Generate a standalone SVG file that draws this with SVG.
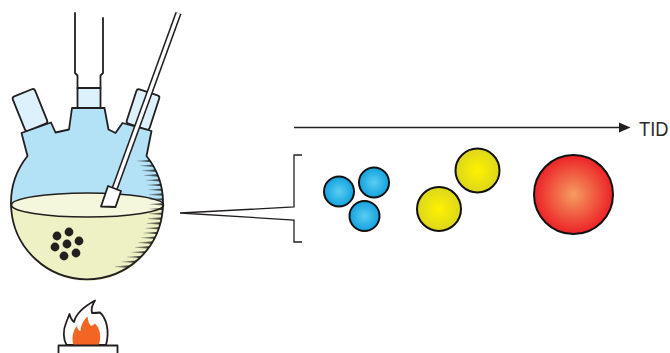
<svg xmlns="http://www.w3.org/2000/svg" xmlns:xlink="http://www.w3.org/1999/xlink" width="670" height="353" viewBox="0 0 670 353">
<style>
.ol{stroke:#231f20;stroke-width:1.8;stroke-linejoin:round;stroke-linecap:round}
.ln{fill:none;stroke:#231f20;stroke-width:1.3}
.dot{fill:#231f20}
.pt{stroke:#111;stroke-width:2}
</style>
<defs>
<linearGradient id="tickG" x1="1" y1="0" x2="0" y2="0">
<stop offset="0" stop-color="#231f20"/>
<stop offset="1" stop-color="#231f20" stop-opacity="0.3"/>
</linearGradient>
<path id="tk" d="M2,-1.3 L-14,-0.3 L-14,0.3 L2,1.3 Z" fill="url(#tickG)"/>
<radialGradient id="blueG" cx="0.5" cy="0.5" r="0.5">
<stop offset="0" stop-color="#5ccdf3"/>
<stop offset="1" stop-color="#11a2de"/>
</radialGradient>
<radialGradient id="yelG" cx="0.5" cy="0.5" r="0.5">
<stop offset="0" stop-color="#fff200"/>
<stop offset="1" stop-color="#dcd61c"/>
</radialGradient>
<radialGradient id="redG" cx="0.5" cy="0.5" r="0.5">
<stop offset="0" stop-color="#f59d60"/>
<stop offset="1" stop-color="#ec2227"/>
</radialGradient>
<clipPath id="sphereClip"><circle cx="87.5" cy="203" r="76"/></clipPath>
</defs>

<g id="flask">
<rect x="-12" y="-18.5" width="24" height="37" rx="2.5" transform="translate(30,110) rotate(-22)" fill="#dcf1fc" class="ol"/>
<rect x="-12" y="-18" width="24" height="36" rx="2.5" transform="translate(143,109.5) rotate(18)" fill="#dcf1fc" class="ol"/>
<rect x="77.5" y="88" width="23" height="20" fill="#dcf1fc" class="ol"/>
<path d="M27.5,156 A76 76 0 1 0 146.5,156 L151.5,131 L122.5,123 L115.5,133 L108.5,129.5 L104.5,108 L72,108 L69,129.5 L55.5,132.5 L51,122.5 L21.5,133 Z" fill="#b3e2f7"/>
<path d="M11.5,205 A76 76 0 0 0 163.5,205 A76 12 0 0 0 11.5,205 Z" fill="#eef1c4"/>
<ellipse cx="87.5" cy="205" rx="76" ry="12" fill="#f4f7db" stroke="#231f20" stroke-width="1.6"/>
<g id="dots">
<circle class="dot" cx="57" cy="236" r="4.4"/>
<circle class="dot" cx="69" cy="232" r="4.4"/>
<circle class="dot" cx="79" cy="241" r="4.4"/>
<circle class="dot" cx="55" cy="247" r="4.4"/>
<circle class="dot" cx="67" cy="244" r="4.4"/>
<circle class="dot" cx="76" cy="253" r="4.4"/>
<circle class="dot" cx="64" cy="256" r="4.4"/>
</g>
<g id="ticks" clip-path="url(#sphereClip)">
<use xlink:href="#tk" href="#tk" x="150.8" y="161"/>
<use xlink:href="#tk" href="#tk" x="153.8" y="165.8"/>
<use xlink:href="#tk" href="#tk" x="156.3" y="170.6"/>
<use xlink:href="#tk" href="#tk" x="158.3" y="175.4"/>
<use xlink:href="#tk" href="#tk" x="160" y="180.2"/>
<use xlink:href="#tk" href="#tk" x="161.3" y="185"/>
<use xlink:href="#tk" href="#tk" x="162.4" y="189.8"/>
<use xlink:href="#tk" href="#tk" x="163" y="194.6"/>
<use xlink:href="#tk" href="#tk" x="163.4" y="199.4"/>
<use xlink:href="#tk" href="#tk" x="163.5" y="204.2"/>
<use xlink:href="#tk" href="#tk" x="163.3" y="209"/>
<use xlink:href="#tk" href="#tk" x="162.7" y="213.8"/>
<use xlink:href="#tk" href="#tk" x="161.9" y="218.6"/>
<use xlink:href="#tk" href="#tk" x="160.7" y="223.4"/>
<use xlink:href="#tk" href="#tk" x="159.2" y="228.2"/>
<use xlink:href="#tk" href="#tk" x="157.3" y="233"/>
<use xlink:href="#tk" href="#tk" x="155.1" y="237.8"/>
<use xlink:href="#tk" href="#tk" x="152.4" y="242.6"/>
<use xlink:href="#tk" href="#tk" x="149.2" y="247.4"/>
<use xlink:href="#tk" href="#tk" x="145.4" y="252.2"/>
<use xlink:href="#tk" href="#tk" x="141" y="257"/>
<use xlink:href="#tk" href="#tk" x="135.7" y="261.8"/>
<use xlink:href="#tk" href="#tk" x="129.1" y="266.6"/>
</g>
<path d="M27.5,156 A76 76 0 1 0 146.5,156 L151.5,131 L122.5,123 L115.5,133 L108.5,129.5 L104.5,108 L72,108 L69,129.5 L55.5,132.5 L51,122.5 L21.5,133 Z" fill="none" class="ol" stroke-width="2"/>
<polyline points="75,13 75,73 77.5,75.5 77.5,88" fill="none" class="ol" stroke-width="1.6"/>
<polyline points="103,18 103,73 100.5,75.5 100.5,88" fill="none" class="ol" stroke-width="1.6"/>
</g>

<g id="stirrer">
<line x1="178.5" y1="13" x2="114.5" y2="189" stroke="#231f20" stroke-width="6.5"/>
<line x1="178.5" y1="13" x2="114.5" y2="189" stroke="#ffffff" stroke-width="3.4"/>
<polygon points="108,186 121,191 115.5,207 101,206.5" fill="#ffffff" class="ol" stroke-width="1.6"/>
</g>

<g id="burner">
<path d="M66.5,345 C63,339 63,330 66,323 C67,320 68.5,317 69.5,314 C70.5,318 72,320.5 74,322 C76,313 85,306 95,300.5 C92,305 91,309 92,313 C94.5,313 97.5,313 100,312.5 C106,318 110,330 106,345 Z" fill="#ffffff" class="ol" stroke-width="1.6"/>
<path d="M73.5,345 C71.5,339 72.5,331 77,326 C77.5,329 78.5,330.5 80.5,331 C81,324 84,320 87.5,316.5 C88,321 89,324 91,326 C92.5,325.5 94,324.5 95,323.5 C100,328 102,338 98.5,345 Z" fill="#f26522"/>
<rect x="58.5" y="345.5" width="59" height="12" fill="#ffffff" class="ol" stroke-width="1.6"/>
</g>

<g id="connectors">
<polyline class="ln" points="302,155 294,155 294,207 180,213 294,220 294,242 302,242"/>
<line class="ln" x1="294" y1="127.5" x2="620" y2="127.5"/>
<polygon points="619,122.5 630.5,127.5 619,132.5" fill="#231f20"/>
</g>

<g id="label-tid">
<text x="639" y="135.5" font-family="'Liberation Sans', Arial, sans-serif" font-size="19.5" fill="#2b2b2b" textLength="29.5" lengthAdjust="spacingAndGlyphs">TID</text>
</g>

<g id="blue-particles">
<circle class="pt" cx="339" cy="191.5" r="15" fill="url(#blueG)"/>
<circle class="pt" cx="374" cy="182.5" r="15" fill="url(#blueG)"/>
<circle class="pt" cx="364.5" cy="216" r="15" fill="url(#blueG)"/>
</g>
<g id="yellow-particles">
<circle class="pt" cx="439" cy="209" r="22" fill="url(#yelG)"/>
<circle class="pt" cx="477.5" cy="170.5" r="22" fill="url(#yelG)"/>
</g>
<g id="red-particle">
<circle class="pt" cx="573.5" cy="194.5" r="39.5" fill="url(#redG)"/>
</g>
</svg>
